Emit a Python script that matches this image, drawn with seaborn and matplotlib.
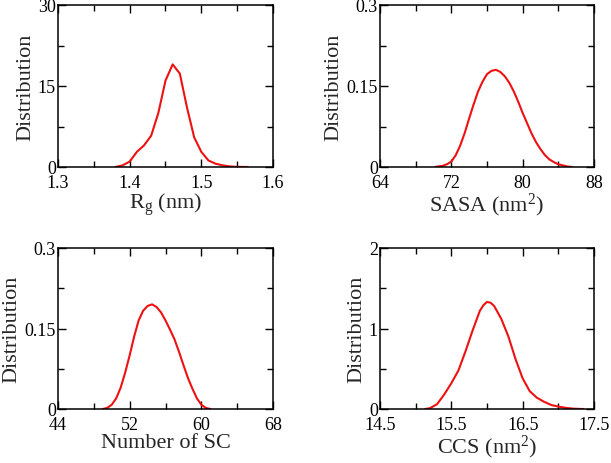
import numpy as np
import pandas as pd
import seaborn as sns
import matplotlib
matplotlib.use("Agg")
import matplotlib.pyplot as plt
from matplotlib.ticker import MultipleLocator

# ---- data ----
rg_x = [1.38, 1.39, 1.40, 1.41, 1.42, 1.43, 1.44, 1.45, 1.46, 1.47, 1.48, 1.49,
        1.50, 1.51, 1.52, 1.53, 1.54, 1.55, 1.565]
rg_y = [0.0, 0.3, 1.0, 2.8, 4.0, 5.8, 10.0, 16.0, 19.0, 17.3, 11.0, 5.5,
        2.8, 1.2, 0.6, 0.3, 0.1, 0.03, 0.0]

sasa_x = [70.2, 70.5, 71, 71.5, 72, 72.5, 73, 73.5, 74, 74.5, 75, 75.5, 76, 76.5,
          77, 77.5, 78, 78.5, 79, 79.5, 80, 80.5, 81, 81.5, 82, 82.5, 83, 83.5,
          84, 84.5, 85, 85.5]
sasa_y = [0.0, 0.001, 0.002, 0.005, 0.01, 0.022, 0.04, 0.063, 0.09, 0.116, 0.14,
          0.158, 0.172, 0.178, 0.18, 0.176, 0.168, 0.156, 0.14, 0.121, 0.10,
          0.081, 0.062, 0.046, 0.033, 0.022, 0.014, 0.009, 0.005, 0.003, 0.001, 0.0]

nsc_x = [49, 49.5, 50, 50.5, 51, 51.5, 52, 52.5, 53, 53.5, 54, 54.5, 55, 55.5,
         56, 56.5, 57, 57.5, 58, 58.5, 59, 59.5, 60, 60.5, 61]
nsc_y = [0.0, 0.002, 0.008, 0.02, 0.04, 0.068, 0.10, 0.135, 0.165, 0.183, 0.192,
         0.195, 0.19, 0.18, 0.165, 0.148, 0.13, 0.107, 0.082, 0.058, 0.038, 0.02,
         0.008, 0.002, 0.0]

ccs_x = [15.13, 15.2, 15.3, 15.4, 15.5, 15.6, 15.7, 15.8, 15.9, 15.95, 16.0, 16.05,
         16.1, 16.2, 16.3, 16.4, 16.5, 16.6, 16.7, 16.8, 16.9, 17.0, 17.1, 17.2,
         17.3, 17.35]
ccs_y = [0.0, 0.01, 0.06, 0.18, 0.32, 0.48, 0.72, 0.98, 1.22, 1.29, 1.33, 1.32,
         1.28, 1.12, 0.90, 0.62, 0.38, 0.22, 0.14, 0.09, 0.05, 0.03, 0.015, 0.005,
         0.001, 0.0]

xlabels = [r"R$_\mathregular{g}$ (nm)", r"SASA (nm$^\mathregular{2}$)",
           "Number of SC", r"CCS (nm$^\mathregular{2}$)"]
ylabel = "Distribution"

sns.set_theme(style="ticks")
plt.rcParams["font.family"] = ["Liberation Serif", "DejaVu Serif"]
plt.rcParams["mathtext.fontset"] = "custom"
plt.rcParams["mathtext.rm"] = "Liberation Serif"
plt.rcParams["mathtext.it"] = "Liberation Serif:italic"

fig = plt.figure(figsize=(6.11, 4.64), dpi=100)

W, H = 611, 464
def box(l, r, t, b):
    return [l / W, (H - b) / H, (r - l) / W, (b - t) / H]

panels = [
    (box(58, 273, 6, 168), rg_x, rg_y, (1.3, 1.6), [1.3, 1.4, 1.5, 1.6], 0.05,
     (0, 30), [0, 15, 30], 7.5, ["1.3", "1.4", "1.5", "1.6"], ["0", "15", "30"]),
    (box(380, 594, 6, 168), sasa_x, sasa_y, (64, 88), [64, 72, 80, 88], 4,
     (0, 0.3), [0, 0.15, 0.3], 0.075, ["64", "72", "80", "88"], ["0", "0.15", "0.3"]),
    (box(58, 273, 249, 410), nsc_x, nsc_y, (44, 68), [44, 52, 60, 68], 4,
     (0, 0.3), [0, 0.15, 0.3], 0.075, ["44", "52", "60", "68"], ["0", "0.15", "0.3"]),
    (box(380, 594, 249, 410), ccs_x, ccs_y, (14.5, 17.5), [14.5, 15.5, 16.5, 17.5], 0.5,
     (0, 2), [0, 1, 2], 0.5, ["14.5", "15.5", "16.5", "17.5"], ["0", "1", "2"]),
]

for i, (pos, xs, ys, xlim, xt, xminor, ylim, yt, yminor, xtl, ytl) in enumerate(panels):
    ax = fig.add_axes(pos)
    df = pd.DataFrame({"x": xs, "y": ys})
    sns.lineplot(data=df, x="x", y="y", ax=ax, color="#ee1111", linewidth=1.5,
                 sort=False, estimator=None)
    ax.set_xlim(*xlim)
    ax.set_ylim(*ylim)
    ax.set_xticks(xt)
    ax.set_xticklabels(xtl)
    ax.set_yticks(yt)
    ax.set_yticklabels(ytl)
    ax.xaxis.set_minor_locator(MultipleLocator(xminor))
    ax.yaxis.set_minor_locator(MultipleLocator(yminor))
    ax.tick_params(which="both", direction="in", top=True, right=True,
                   width=1.0, labelsize=13, colors="black")
    ax.tick_params(axis="x", which="both", pad=5)
    ax.tick_params(axis="y", which="both", pad=1.5)
    ax.tick_params(which="major", length=6)
    ax.tick_params(which="minor", length=4.5)
    for s in ax.spines.values():
        s.set_linewidth(1.1)
        s.set_color("black")
    ax.set_xlabel(xlabels[i], fontsize=16, labelpad=0)
    ax.set_ylabel(ylabel, fontsize=16, labelpad=2)

fig.savefig("out.png", dpi=100)
